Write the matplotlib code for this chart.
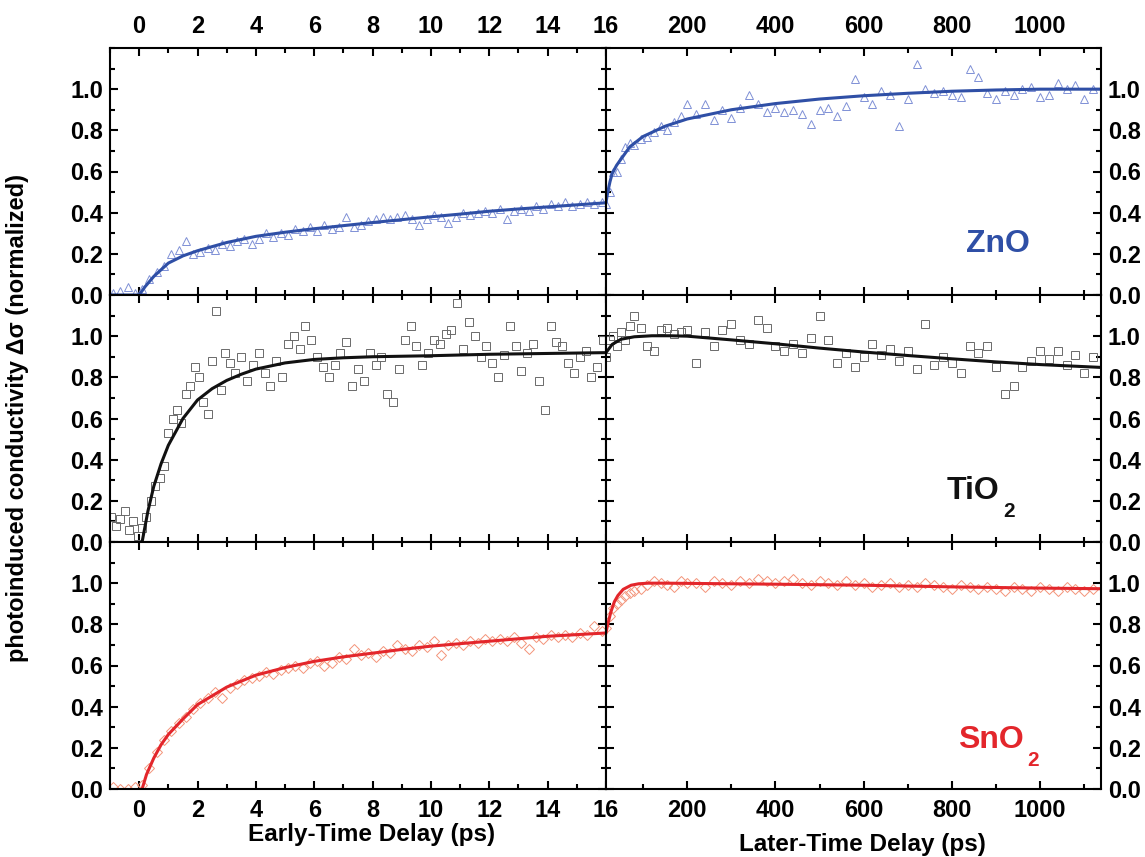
import matplotlib
matplotlib.use('Agg')
import matplotlib.pyplot as plt
from matplotlib.ticker import MultipleLocator, FixedLocator, FormatStrFormatter

plt.rcParams['font.family'] = ['Liberation Sans', 'DejaVu Sans']
plt.rcParams['font.weight'] = 'bold'

# ---- delay grids (ps) ----
early_delay = [-0.9, -0.65, -0.4, -0.15, 0.1, 0.35, 0.6, 0.85, 1.1, 1.35, 1.6, 1.85,
               2.1, 2.35, 2.6, 2.85, 3.1, 3.35, 3.6, 3.85, 4.1, 4.35, 4.6, 4.85,
               5.1, 5.35, 5.6, 5.85, 6.1, 6.35, 6.6, 6.85, 7.1, 7.35, 7.6, 7.85,
               8.1, 8.35, 8.6, 8.85, 9.1, 9.35, 9.6, 9.85, 10.1, 10.35, 10.6, 10.85,
               11.1, 11.35, 11.6, 11.85, 12.1, 12.35, 12.6, 12.85, 13.1, 13.35, 13.6, 13.85,
               14.1, 14.35, 14.6, 14.85, 15.1, 15.35, 15.6, 15.85]
late_delay = [17, 24, 32, 40, 50, 60, 70, 80, 95, 110, 125, 140, 155, 170, 185, 200,
              220, 240, 260, 280, 300, 320, 340, 360, 380, 400, 420, 440, 460, 480, 500,
              520, 540, 560, 580, 600, 620, 640, 660, 680, 700, 720, 740, 760, 780, 800,
              820, 840, 860, 880, 900, 920, 940, 960, 980, 1000, 1020, 1040, 1060, 1080,
              1100, 1120]
tio2_early_delay = [-0.95, -0.8, -0.65, -0.5, -0.35, -0.2, -0.05, 0.1, 0.25, 0.4, 0.55,
                    0.7, 0.85, 1.0, 1.15, 1.3, 1.45, 1.6, 1.75, 1.9, 2.05, 2.2, 2.35,
                    2.5, 2.65, 2.8, 2.95, 3.1, 3.3, 3.5, 3.7, 3.9, 4.1, 4.3, 4.5, 4.7,
                    4.9, 5.1, 5.3, 5.5, 5.7, 5.9, 6.1, 6.3, 6.5, 6.7, 6.9, 7.1, 7.3,
                    7.5, 7.7, 7.9, 8.1, 8.3, 8.5, 8.7, 8.9, 9.1, 9.3, 9.5, 9.7, 9.9,
                    10.1, 10.3, 10.5, 10.7, 10.9, 11.1, 11.3, 11.5, 11.7, 11.9, 12.1,
                    12.3, 12.5, 12.7, 12.9, 13.1, 13.3, 13.5, 13.7, 13.9, 14.1, 14.3,
                    14.5, 14.7, 14.9, 15.1, 15.3, 15.5, 15.7, 15.9]

# ---- measured photoconductivity (normalized) ----
zno_early = [0.01, 0.02, 0.04, 0.01, 0.03, 0.08, 0.11, 0.14, 0.2, 0.22, 0.26, 0.2,
             0.21, 0.23, 0.22, 0.25, 0.24, 0.26, 0.27, 0.25, 0.27, 0.3, 0.28, 0.3,
             0.29, 0.32, 0.31, 0.33, 0.31, 0.34, 0.32, 0.33, 0.38, 0.33, 0.34, 0.36,
             0.37, 0.38, 0.37, 0.38, 0.39, 0.37, 0.34, 0.37, 0.39, 0.38, 0.35, 0.38,
             0.4, 0.39, 0.4, 0.41, 0.4, 0.42, 0.37, 0.41, 0.42, 0.41, 0.43, 0.42,
             0.44, 0.43, 0.45, 0.43, 0.44, 0.45, 0.44, 0.45]
zno_late = [0.44, 0.5, 0.6, 0.6, 0.66, 0.72, 0.74, 0.73, 0.76, 0.77, 0.79, 0.82, 0.8,
            0.84, 0.87, 0.93, 0.88, 0.93, 0.85, 0.9, 0.86, 0.91, 0.97, 0.93, 0.89, 0.91,
            0.89, 0.9, 0.88, 0.83, 0.9, 0.91, 0.87, 0.92, 1.05, 0.96, 0.93, 0.99, 0.97,
            0.82, 0.95, 1.12, 1.0, 0.98, 0.99, 0.97, 0.96, 1.1, 1.06, 0.98, 0.95, 0.99,
            0.97, 1.0, 1.01, 0.96, 0.97, 1.03, 1.0, 1.02, 0.95, 1.0]
tio2_early = [0.12, 0.08, 0.11, 0.15, 0.06, 0.1, 0.03, 0.07, 0.12, 0.2, 0.27, 0.31,
              0.37, 0.53, 0.6, 0.64, 0.58, 0.72, 0.76, 0.85, 0.8, 0.68, 0.62, 0.88,
              1.12, 0.74, 0.92, 0.87, 0.82, 0.9, 0.78, 0.86, 0.92, 0.82, 0.76, 0.88,
              0.8, 0.96, 1.0, 0.94, 1.05, 0.98, 0.9, 0.85, 0.8, 0.86, 0.92, 0.97,
              0.76, 0.84, 0.78, 0.92, 0.86, 0.9, 0.72, 0.68, 0.84, 0.98, 1.05, 0.95,
              0.86, 0.92, 0.98, 0.96, 1.01, 1.03, 1.16, 0.94, 1.07, 1.0, 0.9, 0.95,
              0.87, 0.8, 0.91, 1.05, 0.95, 0.83, 0.92, 0.96, 0.78, 0.64, 1.05, 0.97,
              0.95, 0.87, 0.82, 0.9, 0.93, 0.8, 0.85, 0.98]
tio2_late = [0.9, 0.98, 1.0, 0.95, 1.02, 0.98, 1.05, 1.1, 1.04, 0.95, 0.93, 1.03, 1.04,
             1.01, 1.02, 1.03, 0.87, 1.02, 0.95, 1.03, 1.06, 0.98, 0.96, 1.08, 1.04,
             0.95, 0.93, 0.96, 0.92, 0.99, 1.1, 0.98, 0.87, 0.92, 0.85, 0.9, 0.96,
             0.91, 0.94, 0.88, 0.93, 0.84, 1.06, 0.86, 0.9, 0.87, 0.82, 0.95, 0.92,
             0.95, 0.85, 0.72, 0.76, 0.85, 0.88, 0.93, 0.89, 0.93, 0.86, 0.91, 0.82, 0.9]
sno2_early = [0.01, 0.0, 0.0, 0.01, 0.02, 0.1, 0.18, 0.24, 0.28, 0.32, 0.35, 0.39,
              0.42, 0.44, 0.47, 0.44, 0.49, 0.51, 0.53, 0.54, 0.55, 0.57, 0.56, 0.58,
              0.59, 0.6, 0.59, 0.61, 0.62, 0.6, 0.61, 0.64, 0.63, 0.68, 0.65, 0.66,
              0.64, 0.67, 0.66, 0.7, 0.68, 0.67, 0.7, 0.69, 0.72, 0.65, 0.7, 0.71,
              0.7, 0.72, 0.71, 0.73, 0.72, 0.73, 0.72, 0.74, 0.71, 0.68, 0.74, 0.73,
              0.75, 0.74, 0.75, 0.74, 0.76, 0.75, 0.79, 0.77]
sno2_late = [0.78, 0.84, 0.88, 0.9, 0.92, 0.94, 0.95, 0.96, 0.97, 0.99, 1.01, 1.0, 0.99,
             0.98, 1.01, 1.0, 1.0, 0.98, 1.01, 1.0, 0.99, 1.01, 1.0, 1.02, 1.01, 1.0,
             1.01, 1.02, 1.0, 0.99, 1.01, 1.0, 0.99, 1.01, 0.99, 1.0, 0.98, 0.99, 1.0,
             0.98, 0.99, 0.98, 1.0, 0.99, 0.98, 0.97, 0.99, 0.98, 0.97, 0.98, 0.97,
             0.96, 0.98, 0.97, 0.96, 0.98, 0.97, 0.96, 0.98, 0.97, 0.96, 0.97]

# ---- fitted curves ----
zno_fit_early_x = [-1, 0, 0.2, 0.5, 1, 1.5, 2, 3, 4, 5, 6, 7, 8, 9, 10, 11, 12, 13, 14, 15, 16]
zno_fit_early_y = [0, 0, 0.04, 0.09, 0.155, 0.19, 0.215, 0.255, 0.285, 0.305, 0.322, 0.337,
                   0.352, 0.366, 0.38, 0.393, 0.407, 0.418, 0.428, 0.438, 0.448]
zno_fit_late_x = [16, 20, 25, 30, 40, 50, 70, 100, 150, 200, 300, 400, 500, 600, 700,
                  800, 900, 1000, 1140]
zno_fit_late_y = [0.45, 0.5, 0.55, 0.59, 0.63, 0.66, 0.72, 0.77, 0.82, 0.855, 0.9, 0.93,
                  0.952, 0.968, 0.98, 0.99, 0.996, 1.0, 1.0]
tio2_fit_early_x = [0.1, 0.3, 0.5, 0.75, 1, 1.5, 2, 2.5, 3, 3.5, 4, 5, 6, 7, 8, 10,
                    12, 14, 16]
tio2_fit_early_y = [0, 0.15, 0.27, 0.38, 0.47, 0.6, 0.69, 0.745, 0.785, 0.815, 0.84,
                    0.87, 0.887, 0.895, 0.9, 0.905, 0.912, 0.916, 0.92]
tio2_fit_late_x = [16, 30, 50, 80, 120, 160, 200, 300, 400, 500, 600, 700, 800, 900, 1000, 1140]
tio2_fit_late_y = [0.92, 0.96, 0.985, 0.997, 1.002, 1.002, 1.0, 0.982, 0.963, 0.942, 0.923,
                   0.906, 0.89, 0.875, 0.862, 0.848]
sno2_fit_early_x = [0.1, 0.25, 0.5, 0.75, 1, 1.5, 2, 3, 4, 5, 6, 7, 8, 9, 10, 11, 12,
                    13, 14, 15, 16]
sno2_fit_early_y = [0, 0.07, 0.15, 0.215, 0.265, 0.34, 0.41, 0.495, 0.553, 0.59,
                    0.62, 0.642, 0.66, 0.678, 0.694, 0.706, 0.718, 0.73, 0.742, 0.75, 0.758]
sno2_fit_late_x = [16, 20, 27, 35, 43, 55, 73, 90, 112, 150, 200, 400, 600, 800, 1000, 1140]
sno2_fit_late_y = [0.76, 0.8, 0.86, 0.91, 0.94, 0.97, 0.99, 0.997, 1.0, 1.0, 0.999, 0.995,
                   0.99, 0.982, 0.976, 0.973]

materials = [('ZnO', ''), ('TiO', '2'), ('SnO', '2')]
line_colors = ['#2f4fa6', '#111111', '#e3262b']
marker_colors = ['#7f90d6', '#6a6a6a', '#f3947a']
markers = ['^', 's', 'D']
early_x = [early_delay, tio2_early_delay, early_delay]
early_y = [zno_early, tio2_early, sno2_early]
late_y = [zno_late, tio2_late, sno2_late]
fit_early = [(zno_fit_early_x, zno_fit_early_y), (tio2_fit_early_x, tio2_fit_early_y),
             (sno2_fit_early_x, sno2_fit_early_y)]
fit_late = [(zno_fit_late_x, zno_fit_late_y), (tio2_fit_late_x, tio2_fit_late_y),
            (sno2_fit_late_x, sno2_fit_late_y)]
label_pos = [(905, 0.25), (848, 0.25), (888, 0.24)]

fig = plt.figure(figsize=(11.45, 8.57), dpi=100)
x0, xm, x1 = 110 / 1145, 606 / 1145, 1101 / 1145
y_bot, y_top = 1 - 789 / 857, 1 - 48 / 857
h = (y_top - y_bot) / 3

for i in range(3):
    yb = y_top - (i + 1) * h
    axL = fig.add_axes([x0, yb, xm - x0, h])
    axR = fig.add_axes([xm, yb, x1 - xm, h])

    ms = 5.5 if markers[i] != 'D' else 4.8
    axL.plot(early_x[i], early_y[i], linestyle='none', marker=markers[i], ms=ms,
             mfc='none', mec=marker_colors[i], mew=0.7)
    axL.plot(fit_early[i][0], fit_early[i][1], color=line_colors[i], lw=2.2)
    axR.plot(late_delay, late_y[i], linestyle='none', marker=markers[i], ms=ms,
             mfc='none', mec=marker_colors[i], mew=0.7)
    axR.plot(fit_late[i][0], fit_late[i][1], color=line_colors[i], lw=2.2)

    axL.set_xlim(-1, 16)
    axR.set_xlim(16, 1138)
    for ax in (axL, axR):
        ax.set_ylim(0, 1.2)
        ax.yaxis.set_major_locator(FixedLocator([0, 0.2, 0.4, 0.6, 0.8, 1.0]))
        ax.yaxis.set_minor_locator(MultipleLocator(0.1))
        ax.yaxis.set_major_formatter(FormatStrFormatter('%.1f'))
        ax.tick_params(which='both', direction='in', top=True, bottom=True,
                       left=True, right=True, width=1.5, labelsize=17)
        ax.tick_params(axis='y', pad=5)
        ax.tick_params(axis='x', pad=7)
        ax.tick_params(which='major', length=6)
        ax.tick_params(which='minor', length=3.5)
        for s in ax.spines.values():
            s.set_linewidth(1.5)
    axL.xaxis.set_major_locator(FixedLocator([0, 2, 4, 6, 8, 10, 12, 14, 16]))
    axL.xaxis.set_minor_locator(MultipleLocator(1))
    axR.xaxis.set_major_locator(FixedLocator([200, 400, 600, 800, 1000]))
    axR.xaxis.set_minor_locator(MultipleLocator(100))
    axL.tick_params(labelleft=True, labelright=False,
                    labeltop=(i == 0), labelbottom=(i == 2))
    axR.tick_params(labelleft=False, labelright=True,
                    labeltop=(i == 0), labelbottom=(i == 2))
    for ax in (axL, axR):
        for t in ax.get_xticklabels() + ax.get_yticklabels():
            t.set_fontweight('bold')

    name, sub = materials[i]
    t = axR.text(label_pos[i][0], label_pos[i][1], name, color=line_colors[i],
                 fontsize=23, fontweight='bold', ha='center', va='center')
    if sub:
        axR.annotate(sub, xy=(1, 0.12), xycoords=t, xytext=(3, 0),
                     textcoords='offset points', ha='left', va='top',
                     color=line_colors[i], fontsize=15, fontweight='bold')

fig.text(372 / 1145, 1 - 835 / 857, 'Early-Time Delay (ps)', ha='center', va='center',
         fontsize=17.5, fontweight='bold')
fig.text(862 / 1145, 1 - 845 / 857, 'Later-Time Delay (ps)', ha='center', va='center',
         fontsize=17.5, fontweight='bold')
fig.text(18 / 1145, 1 - 418 / 857, 'photoinduced conductivity \u0394\u03c3 (normalized)',
         rotation=90, ha='center', va='center', fontsize=17, fontweight='bold')

fig.savefig('out.png', dpi=100)
